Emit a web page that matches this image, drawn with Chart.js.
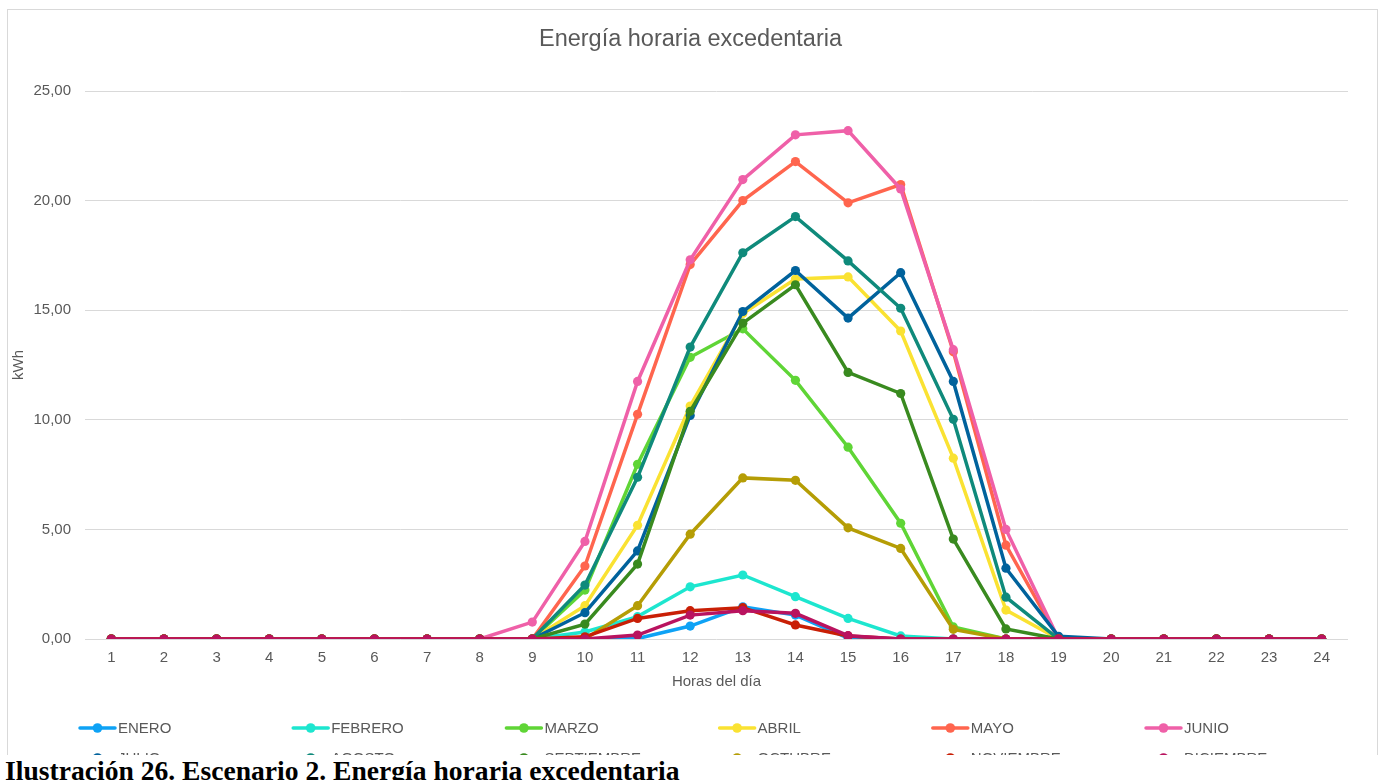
<!DOCTYPE html>
<html lang="es">
<head>
<meta charset="utf-8">
<title>Energía horaria excedentaria</title>
<script src="https://cdn.jsdelivr.net/npm/chart.js@4/dist/chart.umd.min.js"></script>
<style>
  html, body { margin: 0; padding: 0; background: #ffffff; }
  body { width: 1381px; height: 780px; position: relative; overflow: hidden; }
  #frame {
    position: absolute; left: 7px; top: 9px; width: 1371px; height: 800px;
    border: 1px solid #d9d9d9; box-sizing: border-box;
  }
  #wrap { position: absolute; left: 0; top: 0; width: 1381px; height: 780px; }
  #caption {
    position: absolute; left: 0; top: 755px; width: 1381px; height: 25px;
    background: #ffffff; padding-left: 5px; box-sizing: border-box;
    font-family: "Liberation Serif", "Times New Roman", serif;
    font-weight: bold; font-size: 27.6px; line-height: 31px; color: #000000;
    white-space: nowrap; overflow: hidden;
  }
</style>
</head>
<body>
<div id="frame"></div>
<div id="wrap"><canvas id="chart"></canvas></div>
<div id="caption">Ilustración 26. Escenario 2. Energía horaria excedentaria</div>
<script>
// Hours of the day (x categories)
const hours = ['1','2','3','4','5','6','7','8','9','10','11','12',
               '13','14','15','16','17','18','19','20','21','22','23','24'];

// Month names (series)
const months = ['ENERO','FEBRERO','MARZO','ABRIL','MAYO','JUNIO',
                'JULIO','AGOSTO','SEPTIEMBRE','OCTUBRE','NOVIEMBRE','DICIEMBRE'];

// Hourly surplus energy per month, kWh (hours 1..24)
const enero      = [0,0,0,0,0,0,0,0,0,0,0.02,0.59,1.47,1.09,0.04,0,0,0,0,0,0,0,0,0];
const febrero    = [0,0,0,0,0,0,0,0,0,0.32,1.02,2.38,2.92,1.93,0.94,0.14,0,0,0,0,0,0,0,0];
const marzo      = [0,0,0,0,0,0,0,0,0,2.23,7.97,12.85,14.15,11.80,8.75,5.28,0.55,0,0,0,0,0,0,0];
const abril      = [0,0,0,0,0,0,0,0,0,1.52,5.19,10.63,14.85,16.42,16.52,14.05,8.25,1.32,0,0,0,0,0,0];
const mayo       = [0,0,0,0,0,0,0,0,0,3.33,10.25,17.08,20.00,21.78,19.90,20.73,13.10,4.28,0,0,0,0,0,0];
const junio      = [0,0,0,0,0,0,0,0,0.77,4.45,11.75,17.30,20.96,23.00,23.19,20.53,13.20,5.00,0,0,0,0,0,0];
const julio      = [0,0,0,0,0,0,0,0,0,1.20,4.02,10.20,14.94,16.81,14.64,16.71,11.75,3.23,0.12,0,0,0,0,0];
const agosto     = [0,0,0,0,0,0,0,0,0,2.46,7.38,13.32,17.62,19.27,17.25,15.09,10.02,1.91,0,0,0,0,0,0];
const septiembre = [0,0,0,0,0,0,0,0,0,0.68,3.42,10.39,14.41,16.16,12.16,11.20,4.56,0.46,0,0,0,0,0,0];
const octubre    = [0,0,0,0,0,0,0,0,0,0,1.52,4.78,7.35,7.24,5.07,4.13,0.44,0,0,0,0,0,0,0];
const noviembre  = [0,0,0,0,0,0,0,0,0,0.10,0.94,1.29,1.43,0.64,0.14,0,0,0,0,0,0,0,0,0];
const diciembre  = [0,0,0,0,0,0,0,0,0,0,0.18,1.09,1.29,1.17,0.15,0,0,0,0,0,0,0,0,0];

const seriesValues = [enero, febrero, marzo, abril, mayo, junio,
                      julio, agosto, septiembre, octubre, noviembre, diciembre];

const monthColors = ['#0ea2f5','#1de6cf','#5fd536','#fae232','#ff654e','#ef60a8',
                     '#00629c','#0f8a7b','#398a1f','#b59d05','#c91f06','#b9135f'];

const textColor = '#595959';
const gridColor = '#d9d9d9';
Chart.defaults.font.family = '"Liberation Sans", Arial, sans-serif';
Chart.defaults.color = textColor;

const fmt = v => Number(v).toFixed(2).replace('.', ',');

const datasets = months.map((m, i) => ({
  label: m,
  data: seriesValues[i],
  borderColor: monthColors[i],
  backgroundColor: monthColors[i],
  borderWidth: 3.5,
  pointRadius: 4.6,
  pointBorderWidth: 0,
  pointHoverRadius: 5,
  tension: 0,
  fill: false,
  order: months.length - i   // later months are painted on top
}));

// Legend laid out as an evenly spaced grid of six columns under the plot
const gridLegend = {
  id: 'gridLegend',
  afterDraw(chart) {
    const ctx = chart.ctx;
    const colStart = 80, colStep = 213.2, rows = [728, 758];
    ctx.save();
    ctx.font = '15px "Liberation Sans", Arial, sans-serif';
    ctx.textBaseline = 'middle';
    ctx.textAlign = 'left';
    chart.data.datasets.forEach((ds, i) => {
      const x = colStart + colStep * (i % 6);
      const y = rows[Math.floor(i / 6)];
      ctx.strokeStyle = ds.borderColor;
      ctx.lineWidth = 3.5;
      ctx.lineCap = 'round';
      ctx.beginPath();
      ctx.moveTo(x, y);
      ctx.lineTo(x + 35, y);
      ctx.stroke();
      ctx.fillStyle = ds.borderColor;
      ctx.beginPath();
      ctx.arc(x + 17.5, y, 4.8, 0, Math.PI * 2);
      ctx.fill();
      ctx.fillStyle = textColor;
      ctx.fillText(ds.label, x + 38, y + 1);
    });
    ctx.restore();
  }
};

new Chart(document.getElementById('chart'), {
  type: 'line',
  data: { labels: hours, datasets },
  options: {
    responsive: true,
    maintainAspectRatio: false,
    animation: false,
    layout: { padding: { left: 0, right: 0, top: 0, bottom: 85 } },
    plugins: {
      legend: { display: false },
      tooltip: { enabled: false },
      title: {
        display: true,
        text: 'Energía horaria excedentaria',
        color: textColor,
        font: { size: 23.5, weight: 'normal' },
        padding: { top: 25, bottom: 37.8 }
      }
    },
    scales: {
      x: {
        type: 'category',
        offset: true,
        grid: { display: false, drawTicks: false },
        border: { display: false },
        ticks: { color: textColor, font: { size: 15 }, padding: 10, maxRotation: 0, autoSkip: false },
        title: {
          display: true, text: 'Horas del día', color: textColor,
          font: { size: 15 }, padding: { top: 4, bottom: 4 }
        },
        afterFit(scale) { scale.height = 56; }
      },
      y: {
        min: 0, max: 25,
        grid: { color: gridColor, lineWidth: 1, drawTicks: false },
        border: { display: false },
        ticks: { stepSize: 5, color: textColor, font: { size: 15 }, padding: 14, callback: fmt },
        title: {
          display: true, text: 'kWh', color: textColor,
          font: { size: 15 }, padding: { top: 10, bottom: 0 }
        },
        afterFit(scale) { scale.width = 85; }
      },
      // empty right-hand margin so the plot ends where the frame's inner area ends
      yRight: {
        position: 'right',
        display: true,
        grid: { display: false, drawTicks: false },
        border: { display: false },
        ticks: { display: false },
        afterFit(scale) { scale.width = 33; }
      }
    }
  },
  plugins: [gridLegend]
});
</script>
</body>
</html>
